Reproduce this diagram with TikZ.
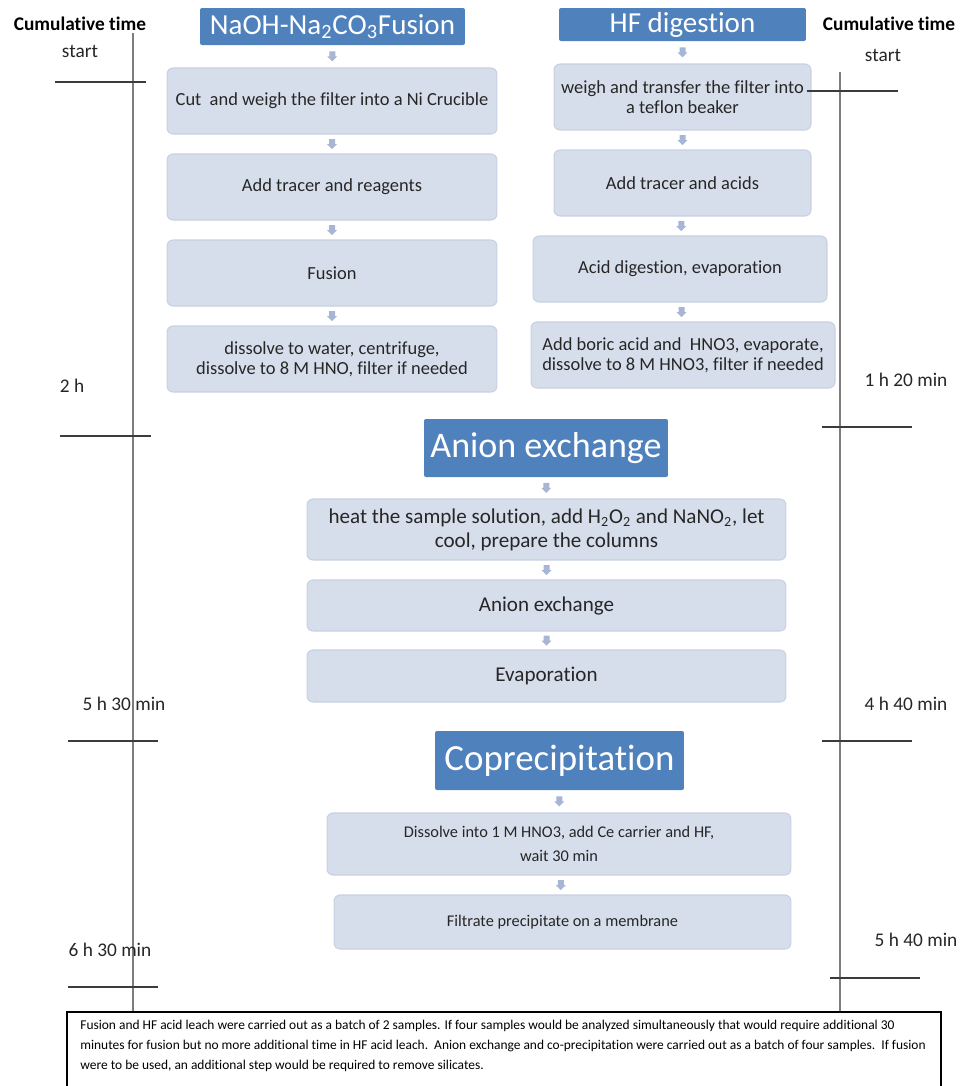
\documentclass[tikz,border=0pt]{standalone}
\usepackage{fontspec}
\setmainfont{Carlito}[Ligatures=NoCommon]
\usetikzlibrary{calc,positioning}

\definecolor{titleblue}{RGB}{79,129,189}
\definecolor{boxfill}{RGB}{215,222,235}
\definecolor{boxline}{RGB}{200,209,226}
\definecolor{arrowfill}{RGB}{166,182,212}
\definecolor{textdark}{RGB}{38,38,38}
\definecolor{axisgray}{RGB}{125,125,125}
\definecolor{tickgray}{RGB}{60,60,60}

\tikzset{
  stepbox/.style={draw=boxline, fill=boxfill, line width=0.6pt, rounded corners=0.12cm,
    text=textdark, align=center, inner sep=0pt},
  headbox/.style={fill=titleblue, rounded corners=0.04cm, text=white, inner sep=0pt},
  timelbl/.style={text=textdark, inner sep=0pt, font=\fontsize{11}{13}\selectfont},
  timehead/.style={text=black, inner sep=0pt, font=\fontsize{11}{13}\selectfont\bfseries},
  axisline/.style={axisgray, line width=0.9pt},
  tickline/.style={tickgray, line width=0.6pt},
}

% small block arrow half way between two boxes
\newcommand{\flowarrow}[2]{%
  \fill[arrowfill] ($(#1.south)!0.5!(#2.north)$) ++(-3,-5) -- ++(6,0) -- ++(0,5)
    -- ++(2,0) -- ++(-5,5) -- ++(-5,-5) -- ++(2,0) -- cycle;}

\begin{document}
\begin{tikzpicture}[x=0.02cm, y=-0.02cm]
\useasboundingbox (0,0) rectangle (961,1086);

% time axes
\draw[axisline] (133,33) -- (133,1012);
\draw[axisline] (840,72) -- (840,1012);

\node[timehead] (lhead) at (80,24) {Cumulative time};
\node[timelbl] (lstart) at (80,51) {start};
\node[timelbl] (l2h) at (72,386) {2 h};
\node[timelbl] (l530) at (124,704) {5 h 30 min};
\node[timelbl] (l630) at (110,950) {6 h 30 min};

\node[timehead] (rhead) at (889,24) {Cumulative time};
\node[timelbl] (rstart) at (883,55) {start};
\node[timelbl] (r120) at (906,380) {1 h 20 min};
\node[timelbl] (r440) at (906,704) {4 h 40 min};
\node[timelbl] (r540) at (916,940) {5 h 40 min};

% fusion column
\node[headbox, minimum width=5.3cm, minimum height=0.74cm, font=\fontsize{16.5}{18}\selectfont]
  (fhead) at (332.5,26.5) {NaOH-Na\textsubscript{2}CO\textsubscript{3}Fusion};
\begin{scope}[every node/.append style={stepbox, minimum width=6.6cm, minimum height=1.32cm,
    font=\fontsize{10.5}{11.3}\selectfont}]
\node (f1) at (332,101) {Cut\ \ and weigh the filter into a Ni Crucible};
\node (f2) at (332,187) {Add tracer and reagents};
\node (f3) at (332,273) {Fusion};
\node (f4) at (332,359) {dissolve to water, centrifuge,\\dissolve to 8 M HNO, filter if needed};
\end{scope}
\flowarrow{fhead}{f1}
\flowarrow{f1}{f2}
\flowarrow{f2}{f3}
\flowarrow{f3}{f4}

% HF column
\node[headbox, minimum width=4.94cm, minimum height=0.66cm, font=\fontsize{16.5}{18}\selectfont]
  (hhead) at (682.5,24.5) {HF digestion};
\begin{scope}[every node/.append style={stepbox, minimum height=1.32cm,
    font=\fontsize{10.5}{11.6}\selectfont}]
\node[minimum width=5.14cm] (h1) at (682.5,97) {weigh and transfer the filter into\\a teflon beaker};
\node[minimum width=5.14cm] (h2) at (682.5,183) {Add tracer and acids};
\node[minimum width=5.88cm] (h3) at (680,269) {Acid digestion, evaporation};
\node[minimum width=6.08cm] (h4) at (683,355) {Add boric acid and\ \ HNO3, evaporate,\\dissolve to 8 M HNO3, filter if needed};
\end{scope}
\flowarrow{hhead}{h1}
\flowarrow{h1}{h2}
\flowarrow{h2}{h3}
\flowarrow{h3}{h4}

% anion exchange
\node[headbox, minimum width=4.88cm, minimum height=1.16cm, font=\fontsize{20.5}{22}\selectfont]
  (ahead) at (546,448) {Anion exchange};
\begin{scope}[every node/.append style={stepbox, minimum width=9.58cm,
    font=\fontsize{12}{13.6}\selectfont}]
\node[minimum height=1.22cm] (a1) at (546.5,529.5) {heat the sample solution, add H\textsubscript{2}O\textsubscript{2} and NaNO\textsubscript{2}, let\\cool, prepare the columns};
\node[minimum height=1.02cm] (a2) at (546.5,605.5) {Anion exchange};
\node[minimum height=1.04cm] (a3) at (546.5,676) {Evaporation};
\end{scope}
\flowarrow{ahead}{a1}
\flowarrow{a1}{a2}
\flowarrow{a2}{a3}

% coprecipitation
\node[headbox, minimum width=4.98cm, minimum height=1.18cm, font=\fontsize{21}{23}\selectfont]
  (chead) at (559.5,760.5) {Coprecipitation};
\begin{scope}[every node/.append style={stepbox, font=\fontsize{9.3}{14}\selectfont}]
\node[minimum width=9.28cm, minimum height=1.24cm] (c1) at (559,844) {Dissolve into 1 M HNO3, add Ce carrier and HF,\\wait 30 min};
\node[minimum width=9.14cm, minimum height=1.08cm] (c2) at (562.5,922) {Filtrate precipitate on a membrane};
\end{scope}
\flowarrow{chead}{c1}
\flowarrow{c1}{c2}

% ticks of the time axes
\draw[tickline] (55,82) -- (146,82);
\draw[tickline] (60,436) -- (151,436);
\draw[tickline] (68,741) -- (158,741);
\draw[tickline] (68,987) -- (158,987);
\draw[tickline] (807,91) -- (898,91);
\draw[tickline] (822,427) -- (912,427);
\draw[tickline] (822,741) -- (912,741);
\draw[tickline] (830,978) -- (920,978);

% note
\draw[black, line width=0.7pt, fill=white] (67,1092) -- (67,1012) -- (941,1012) -- (941,1092);
\node[anchor=north west, inner sep=0pt, align=left, text=black,
  font=\fontsize{7.65}{11.3}\selectfont] (note) at (80,1020)
  {Fusion and HF acid leach were carried out as a batch of 2 samples. If four samples would be analyzed simultaneously that would require additional 30\\
   minutes for fusion but no more additional time in HF acid leach.\ \ Anion exchange and co-precipitation were carried out as a batch of four samples.\ \ If fusion\\
   were to be used, an additional step would be required to remove silicates.};
\end{tikzpicture}
\end{document}
